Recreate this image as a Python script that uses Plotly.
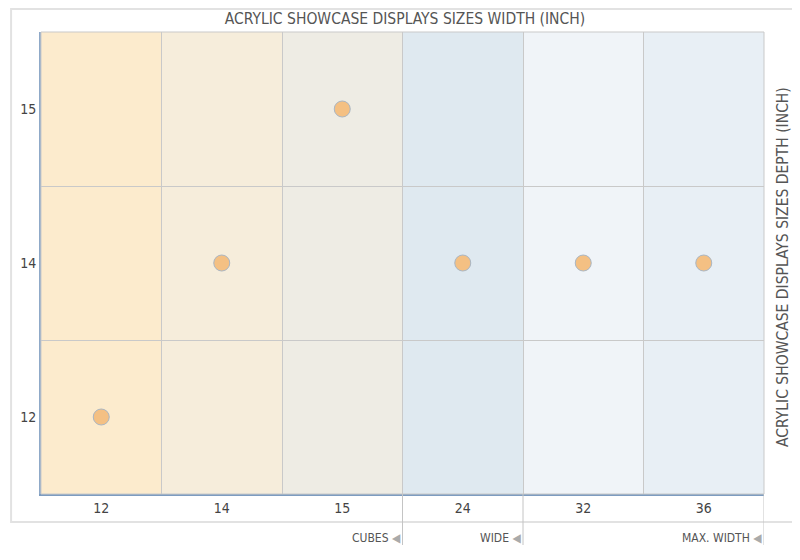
import plotly.graph_objects as go

widths = ["12", "14", "15", "24", "32", "36"]
depths = ["12", "14", "15"]

pt_width = ["12", "14", "15", "24", "32", "36"]
pt_depth = ["12", "14", "15", "14", "14", "14"]

col_colors = ["#fcebcd", "#f6eddb", "#eeece4", "#dfe9f0", "#f0f4f8", "#e8eff5"]

groups = ["CUBES", "WIDE", "MAX. WIDTH"]
group_ends = ["15", "24", "36"]

FONT = "DejaVu Sans Condensed, Liberation Sans Narrow, Roboto, sans-serif"
# the page has an 8px body margin, so the figure is sized to fit the window
OFF = 8
W, H = 800 - OFF, 560 - OFF
L, R, T, B = 39 - OFF, 800 - 764, 32 - OFF, 560 - 494
pw, ph = W - L - R, H - T - B


def py(page_y):
    # page pixel row -> paper y
    return (H - B - (page_y - OFF)) / ph


fig = go.Figure()
fig.add_trace(go.Scatter(
    x=pt_width, y=pt_depth, mode="markers",
    marker=dict(size=16, color="#f4c083", line=dict(color="#a9b6c4", width=1)),
    hoverinfo="x+y", showlegend=False,
))

shapes = []
for i, c in enumerate(col_colors):
    shapes.append(dict(type="rect", xref="x", yref="paper", x0=i - 0.5, x1=i + 0.5,
                       y0=0, y1=1, fillcolor=c, line=dict(width=0), layer="below"))

# outer frame
shapes.append(dict(type="rect", xref="paper", yref="paper",
                   x0=-(L - 1) / pw, x1=(W - L + 20) / pw,
                   y0=py(522), y1=py(OFF + 1),
                   line=dict(color="#e2e2e2", width=2), layer="below"))
# top/right border of plot
shapes.append(dict(type="rect", xref="paper", yref="paper", x0=0, x1=1, y0=0, y1=1,
                   line=dict(color="#c9c9c9", width=1)))

annotations = []
for g, e in zip(groups, group_ends):
    xi = widths.index(e) + 0.5
    shapes.append(dict(type="line", xref="x", yref="paper", x0=xi, x1=xi,
                       y0=py(545), y1=0,
                       line=dict(color="#c4c4c4", width=1)))
    annotations.append(dict(xref="x", yref="paper", x=xi, y=py(538),
                            xanchor="right", yanchor="middle", showarrow=False,
                            text=g + " <span style='color:#aaaaaa'>◀</span>",
                            font=dict(family=FONT, size=12, color="#555555")))

annotations.append(dict(xref="paper", yref="paper", x=(783 - 39) / pw, y=py(267),
                        xanchor="center", yanchor="middle",
                        textangle=-90, showarrow=False,
                        text="ACRYLIC SHOWCASE DISPLAYS SIZES DEPTH (INCH)",
                        font=dict(family=FONT, size=15.5, color="#555555")))

fig.update_layout(
    width=W, height=H,
    margin=dict(l=L, r=R, t=T, b=B),
    paper_bgcolor="white", plot_bgcolor="white",
    font=dict(family=FONT, size=14, color="#444444"),
    title=dict(text="ACRYLIC SHOWCASE DISPLAYS SIZES WIDTH (INCH)",
               x=(405 - OFF) / W, y=1 - (19 - OFF) / H,
               xanchor="center", yanchor="middle",
               font=dict(family=FONT, size=15.5, color="#555555")),
    xaxis=dict(type="category", categoryorder="array", categoryarray=widths,
               range=[-0.5, 5.5], tickson="boundaries", ticks="",
               showgrid=True, gridcolor="#c9c9c9", gridwidth=1,
               showline=True, linecolor="#7d9cc0", linewidth=2,
               zeroline=False, fixedrange=True),
    yaxis=dict(type="category", categoryorder="array", categoryarray=depths,
               range=[-0.5, 2.5], tickson="boundaries", ticks="",
               showgrid=True, gridcolor="#c9c9c9", gridwidth=1,
               showline=True, linecolor="#8fa9c8", linewidth=2,
               zeroline=False, fixedrange=True),
    shapes=shapes,
    annotations=annotations,
)

fig.write_html("out.html")
